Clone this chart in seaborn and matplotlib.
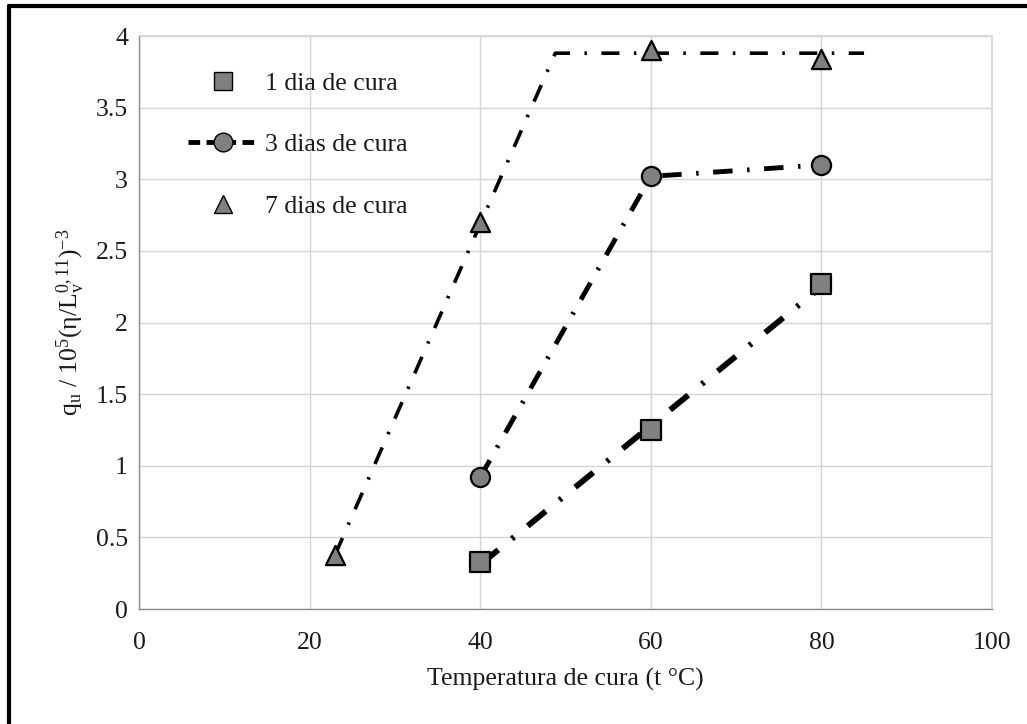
import matplotlib
matplotlib.use("Agg")
import matplotlib.pyplot as plt
import seaborn as sns
import pandas as pd
from matplotlib.lines import Line2D

sns.set_theme(style="white")
plt.rcParams['font.family'] = ['Liberation Serif', 'DejaVu Serif']
plt.rcParams['mathtext.fontset'] = 'custom'
plt.rcParams['mathtext.rm'] = 'Liberation Serif'
plt.rcParams['mathtext.it'] = 'Liberation Serif:italic'

# data
x_1dia = [40, 60, 80]
y_1dia = [0.33, 1.25, 2.27]
x_3dias = [40, 60, 80]
y_3dias = [0.92, 3.02, 3.10]
x_7dias = [23, 40, 60, 80]
y_7dias = [0.38, 2.70, 3.90, 3.84]

# fitted trend lines
fit1_x = [40, 80]
fit1_y = [0.31, 2.25]
fit3_x = [40, 60, 80]
fit3_y = [0.92, 3.02, 3.10]
fit7_x = [23, 48.8, 85]
fit7_y = [0.38, 3.88, 3.88]

labels = ["1 dia de cura", "3 dias de cura", "7 dias de cura"]
xticks = [0, 20, 40, 60, 80, 100]
yticks = [0, 0.5, 1, 1.5, 2, 2.5, 3, 3.5, 4]
ytick_labels = ["0", "0.5", "1", "1.5", "2", "2.5", "3", "3.5", "4"]

FS = 18.5
TXT = '#1a1a1a'

fig = plt.figure(figsize=(10.27, 7.24), dpi=100)
ax = fig.add_axes([139/1027, 1-609/724, (992-139)/1027, (609-36)/724])

# trend lines
sns.lineplot(x=fit1_x, y=fit1_y, ax=ax, color='black', lw=4.2, zorder=2,
             linestyle=(0, (4, 3, 0.5, 3)))
sns.lineplot(x=fit3_x, y=fit3_y, ax=ax, color='black', lw=3.5, zorder=2,
             linestyle=(0, (4, 3, 0.5, 3)), sort=False)
sns.lineplot(x=fit7_x, y=fit7_y, ax=ax, color='black', lw=2.6, zorder=2,
             linestyle=(0, (5, 4, 0.7, 4)), sort=False)

mk = dict(color='#808080', edgecolor='black', linewidth=1.6, zorder=3, s=190)
sns.scatterplot(x=x_1dia, y=y_1dia, ax=ax, marker='s', **mk)
sns.scatterplot(x=x_3dias, y=y_3dias, ax=ax, marker='o', **mk)
sns.scatterplot(x=x_7dias, y=y_7dias, ax=ax, marker='^', **mk)

ax.set_xlim(0, 100)
ax.set_ylim(0, 4)
ax.set_xticks(xticks)
ax.set_xticklabels([str(t) for t in xticks])
ax.set_yticks(yticks)
ax.set_yticklabels(ytick_labels)
ax.grid(True, color='#d4d4d4', lw=1.0)
for s in ['top', 'right']:
    ax.spines[s].set_color('#d4d4d4')
for s in ['left', 'bottom']:
    ax.spines[s].set_color('#8c8c8c')
    ax.spines[s].set_linewidth(1.0)
ax.tick_params(axis='both', which='both', length=5, width=1.0, color='#8c8c8c',
               labelsize=FS, labelcolor=TXT, pad=3)
ax.tick_params(axis='x', direction='inout', length=12, pad=10.5)
ax.set_xlabel("Temperatura de cura (t °C)", fontsize=FS, color=TXT, labelpad=10)
ax.set_ylabel(r"q$_\mathregular{u}$ / 10$^\mathregular{5}$(η/L$_\mathregular{v}^\mathregular{0,11}$)$^\mathregular{-3}$",
              fontsize=FS, color=TXT, labelpad=6)

handles = [
    Line2D([], [], marker='s', color='black', lw=0, markerfacecolor='#808080',
           markeredgecolor='black', markersize=12.5),
    Line2D([], [], marker='o', color='black', lw=3.5, linestyle=(0, (2.4, 1.3)),
           markerfacecolor='#808080', markeredgecolor='black', markersize=13.5),
    Line2D([], [], marker='^', color='black', lw=0, markerfacecolor='#808080',
           markeredgecolor='black', markersize=13.5),
]
ax.legend(handles, labels, loc='upper left', bbox_to_anchor=(0.03, 0.978),
          frameon=False, fontsize=FS, labelspacing=1.5, handlelength=2.72,
          handletextpad=0.27, labelcolor=TXT)

# outer frame (top and left edges)
fig.add_artist(Line2D([9/1027, 1], [1-6/724, 1-6/724], color='black', lw=3,
                      transform=fig.transFigure))
fig.add_artist(Line2D([9/1027, 9/1027], [0, 1-6/724], color='black', lw=3,
                      transform=fig.transFigure))

fig.savefig("out.png", dpi=100)
